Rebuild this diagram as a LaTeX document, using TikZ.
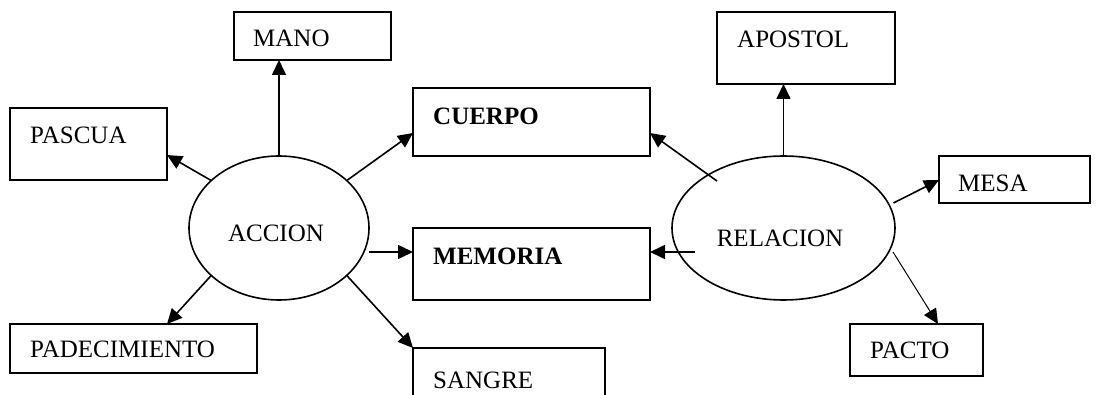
\documentclass[tikz,border=0pt]{standalone}
\usepackage{fontspec}
\setmainfont{Liberation Serif}
\usetikzlibrary{shapes.geometric,arrows.meta,calc}
\tikzset{
  bx/.style={draw, line width=1.6pt, inner sep=0pt, outer sep=0pt},
  ell/.style={draw, ellipse, line width=1.6pt, inner sep=0pt, outer sep=0pt},
  lbl/.style={anchor=base west, inner sep=0pt, font=\fontsize{25}{30}\selectfont},
  clbl/.style={anchor=base, inner sep=0pt, font=\fontsize{25}{30}\selectfont},
  arr/.style={line width=1.6pt, -{Triangle[length=15pt,width=14pt]}},
  thinarr/.style={line width=1pt, -{Triangle[length=15pt,width=14pt]}}
}
\newcommand\mkbox[5]{\node[bx, minimum width={(#4-#2)*1pt}, minimum height={(#5-#3)*1pt}] (#1) at ({(#2+#4)/2},{(#3+#5)/2}) {};}
\begin{document}
\begin{tikzpicture}[x=1pt,y=-1pt]
\useasboundingbox (0,0) rectangle (1104,395);
\clip (0,0) rectangle (1104,395);
\fill[white] (0,0) rectangle (1104,395);
% boxes
\mkbox{mano}{234}{12}{391}{60}
\mkbox{pascua}{10}{108}{167}{180}
\mkbox{cuerpo}{413}{88}{650}{156}
\mkbox{apostol}{717}{12}{895}{84}
\mkbox{mesa}{939}{156}{1090}{203}
\mkbox{memoria}{413}{228}{650}{300}
\mkbox{padec}{10}{324}{257}{373}
\mkbox{sangre}{413}{348}{605}{410}
\mkbox{pacto}{850}{324}{983}{376}
% ellipses
\node[ell, minimum width=180pt, minimum height=144pt] (acc) at (279,228) {};
\node[ell, minimum width=223pt, minimum height=144pt] (rel) at (783.5,228) {};
% texts
\node[lbl] (tmano) at (253,47) {MANO};
\node[lbl] (tpascua) at (30,144) {PASCUA};
\node[lbl] (tcuerpo) at (433,125) {\bfseries CUERPO};
\node[lbl] (tapostol) at (737,48) {APOSTOL};
\node[lbl] (tmesa) at (958,192) {MESA};
\node[lbl] (tmemoria) at (433,265) {\bfseries MEMORIA};
\node[lbl] (tpadec) at (30,358) {PADECIMIENTO};
\node[lbl] (tsangre) at (433,389) {SANGRE};
\node[lbl] (tpacto) at (870,359) {PACTO};
\node[clbl] (tacc) at (276,242) {ACCION};
\node[clbl] (trel) at (780,247) {RELACION};
% connectors from ACCION
\draw[arr] (acc.north) -- (acc.north |- mano.south);
\draw[arr] (acc.145) -- ($(pascua.south east)+(0,-25)$);
\draw[arr] (acc.35) -- ($(cuerpo.south west)+(0,-23)$);
\coordinate (memL) at ($(memoria.west)+(0,-12)$);
\draw[arr] (acc.east |- memL) -- (memL);
\draw[arr] (acc.215) -- ($(padec.north west)+(157,0)$);
\draw[arr] (acc.-35) -- (sangre.north west);
% connectors from RELACION
\draw[arr] ($(rel.center)+(-66.5,-47)$) -- ($(cuerpo.south east)+(0,-23)$);
\draw[arr] (rel.north) -- (rel.north |- apostol.south);
\draw[arr] ($(rel.center)+(110,-25)$) -- ($(mesa.south west)+(0,-23)$);
\draw[arr] ($(rel.center)+(-88.5,24)$) -- ($(memoria.east)+(0,-12)$);
\draw[thinarr] ($(rel.center)+(109.5,24)$) -- ($(pacto.north west)+(88,0)$);
\end{tikzpicture}
\end{document}
